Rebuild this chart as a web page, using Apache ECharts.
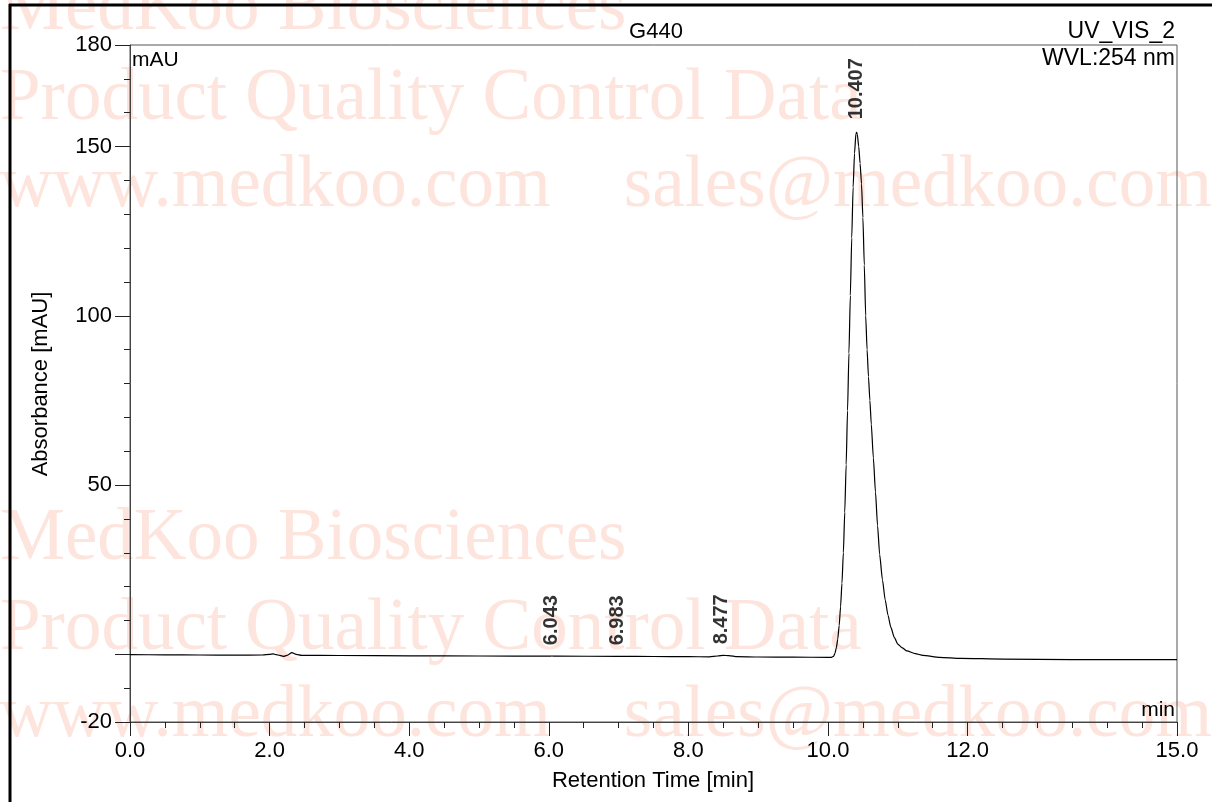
<!DOCTYPE html>
<html><head><meta charset="utf-8">
<script src="https://cdn.jsdelivr.net/npm/echarts@6/dist/echarts.min.js"></script>
<style>html,body{margin:0;padding:0;background:#fff}#c{width:1212px;height:802px}</style>
</head><body><div id="c"></div>
<script>
// Retention time (min) and absorbance (mAU)
const retentionTimes = [0.0,0.5,1.0,1.5,1.9,2.0,2.05,2.12,2.2,2.25,2.32,2.38,2.46,3.0,4.0,5.0,6.0,6.043,6.1,7.0,7.5,8.0,8.3,8.42,8.5,8.58,8.7,9.0,9.5,10.0,10.05,10.08,10.10,10.12,10.14,10.16,10.18,10.20,10.22,10.24,10.26,10.28,10.30,10.32,10.34,10.36,10.38,10.40,10.41,10.42,10.44,10.46,10.48,10.50,10.52,10.54,10.56,10.58,10.60,10.62,10.65,10.68,10.71,10.74,10.78,10.82,10.86,10.90,10.95,11.00,11.06,11.13,11.25,11.36,11.6,11.9,12.5,13.5,15.0];
const absorbance = [-0.1,-0.15,-0.2,-0.25,-0.2,0.0,0.1,-0.2,-0.6,-0.3,0.5,0.0,-0.3,-0.35,-0.45,-0.5,-0.55,-0.5,-0.55,-0.6,-0.65,-0.7,-0.75,-0.5,-0.3,-0.4,-0.7,-0.8,-0.85,-0.9,-0.9,-0.6,0.3,2.0,4.5,8.5,14.0,21.0,30.0,42.0,56.0,72.0,89.0,106.0,123.0,138.0,148.0,153.8,154.2,153.6,150.0,145.0,139.0,129.0,115.0,100.0,90.0,82.0,75.0,68.0,58.0,48.0,38.0,29.5,22.0,16.0,11.5,8.0,5.0,3.0,2.0,1.0,0.2,-0.3,-0.9,-1.2,-1.4,-1.55,-1.6];

const peakTimes = [6.043, 6.983, 8.477, 10.407];
const peakHeights = [-0.55, -0.6, -0.3, 154.2];
const peakLabels = ['6.043', '6.983', '8.477', '10.407'];

const xTickLabels = [0, 2, 4, 6, 8, 10, 12, 15];
const yTickLabels = [-20, 50, 100, 150, 180];
const yMajorTicks = [-20, 0, 50, 100, 150, 180];

const curve = retentionTimes.map((t, i) => [t, absorbance[i]]);
const peaks = peakTimes.map((t, i) => ({ value: [t, peakHeights[i]], name: peakLabels[i],
  label: { distance: i === 3 ? 15 : 13 } }));

const FONT = 'Liberation Sans, Arial, sans-serif';
const WM = '#fde4dc';
const wmFont = '73px "Liberation Serif", "Times New Roman", serif';
const wmLines = [
  ['MedKoo Biosciences', 46], ['Product Quality Control Data', 136], ['www.medkoo.com    sales@medkoo.com', 223],
  ['MedKoo Biosciences', 576], ['Product Quality Control Data', 666], ['www.medkoo.com    sales@medkoo.com', 753]
];

const chart = echarts.init(document.getElementById('c'), null, { renderer: 'canvas' });
const graphics = wmLines.map(([txt, y]) => ({
  type: 'text', x: 0, y: y, z: -10, silent: true,
  style: { text: txt, font: wmFont, fill: WM, verticalAlign: 'bottom' }
}));
graphics.push(
  { type: 'line', shape: { x1: 10, y1: 4, x2: 10, y2: 802 }, style: { stroke: '#000', lineWidth: 3 }, z: 100 },
  { type: 'line', shape: { x1: 9, y1: 5, x2: 1212, y2: 5 }, style: { stroke: '#000', lineWidth: 3 }, z: 100 },
  { type: 'text', x: 656, y: 32, z: 100, style: { text: 'G440', font: '22px ' + FONT, fill: '#000', align: 'center', verticalAlign: 'middle' } },
  { type: 'text', x: 1175, y: 32, z: 100, style: { text: 'UV_VIS_2', font: '23px ' + FONT, fill: '#000', align: 'right', verticalAlign: 'middle' } },
  { type: 'text', x: 1175, y: 59, z: 100, style: { text: 'WVL:254 nm', font: '23px ' + FONT, fill: '#000', align: 'right', verticalAlign: 'middle' } },
  { type: 'text', x: 132, y: 60, z: 100, style: { text: 'mAU', font: '21px ' + FONT, fill: '#000', align: 'left', verticalAlign: 'middle' } },
  { type: 'text', x: 1175, y: 710, z: 100, style: { text: 'min', font: '21px ' + FONT, fill: '#000', align: 'right', verticalAlign: 'middle' } },
  { type: 'text', x: 653, y: 781, z: 100, style: { text: 'Retention Time [min]', font: '22px ' + FONT, fill: '#000', align: 'center', verticalAlign: 'middle' } },
  { type: 'text', x: 41, y: 384, rotation: Math.PI / 2, z: 100, style: { text: 'Absorbance [mAU]', font: '22px ' + FONT, fill: '#000', align: 'center', verticalAlign: 'middle' } }
);

chart.setOption({
  animation: false,
  backgroundColor: '#fff',
  grid: { left: 130, right: 35, top: 45, bottom: 80, show: true, borderColor: '#555', borderWidth: 1, backgroundColor: 'transparent' },
  graphic: graphics,
  xAxis: [
    { type: 'value', min: 0, max: 15, interval: 0.5, position: 'bottom',
      axisLine: { show: true, onZero: false, lineStyle: { color: '#444', width: 1 } },
      axisTick: { show: true, length: 6, lineStyle: { color: '#222' } },
      axisLabel: { show: false }, splitLine: { show: false } },
    { type: 'value', min: 0, max: 15, position: 'bottom',
      axisLine: { show: false, onZero: false },
      axisTick: { show: true, length: 14, customValues: xTickLabels, lineStyle: { color: '#222' } },
      axisLabel: { show: true, customValues: xTickLabels, margin: 18, fontFamily: FONT, fontSize: 22, color: '#000',
        formatter: v => v.toFixed(1) },
      splitLine: { show: false } }
  ],
  yAxis: [
    { type: 'value', min: -20, max: 180, interval: 10, position: 'left',
      axisLine: { show: true, onZero: false, lineStyle: { color: '#444', width: 1 } },
      axisTick: { show: true, length: 6, lineStyle: { color: '#222' } },
      axisLabel: { show: false }, splitLine: { show: false } },
    { type: 'value', min: -20, max: 180, position: 'left',
      axisLine: { show: false, onZero: false },
      axisTick: { show: true, length: 15, customValues: yMajorTicks, lineStyle: { color: '#222' } },
      axisLabel: { show: true, customValues: yTickLabels, margin: 18, fontFamily: FONT, fontSize: 22, color: '#000' },
      splitLine: { show: false } }
  ],
  series: [
    { type: 'line', xAxisIndex: 0, yAxisIndex: 0, data: curve, showSymbol: false, symbol: 'none',
      smooth: 0.2, smoothMonotone: 'x', lineStyle: { color: '#000', width: 1.2 }, z: 5, silent: true },
    { type: 'scatter', xAxisIndex: 0, yAxisIndex: 0, data: peaks, symbolSize: 0, silent: true, z: 6,
      label: { show: true, position: 'top', rotate: 90, align: 'left', verticalAlign: 'middle', offset: [-2, 0],
        formatter: p => p.name, fontFamily: FONT, fontWeight: 'bold', fontSize: 20, color: '#000' } }
  ]
});
</script>
</body></html>
